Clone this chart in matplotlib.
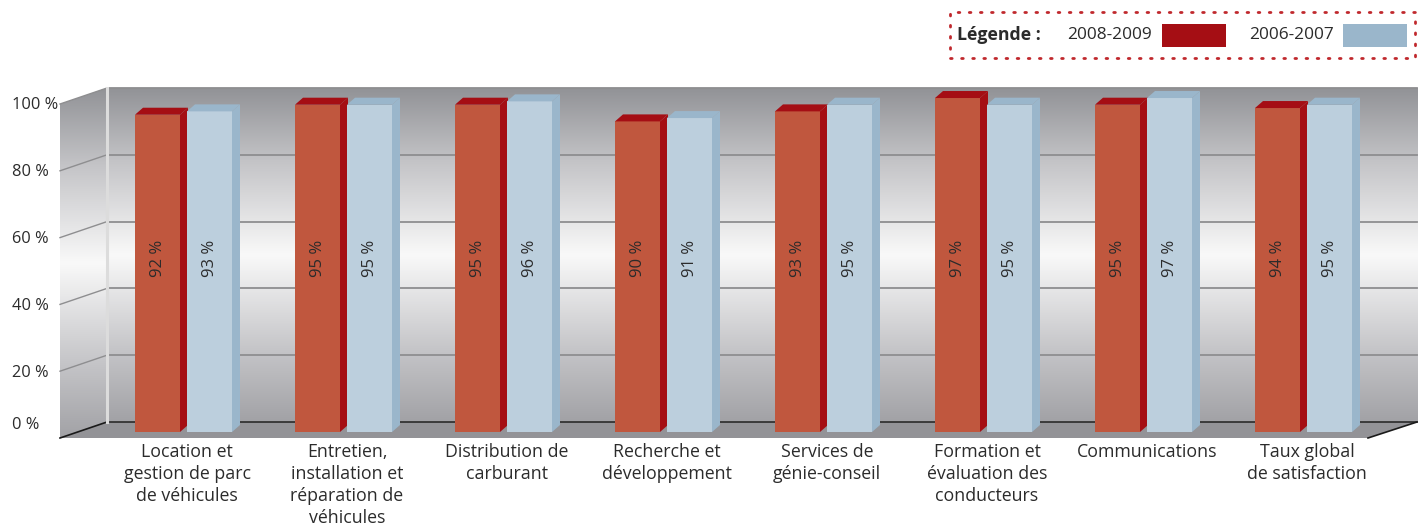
import numpy as np
import matplotlib
matplotlib.use("Agg")
import matplotlib.pyplot as plt
from matplotlib.patches import Polygon, Rectangle
from matplotlib.colors import LinearSegmentedColormap

# ── Data ──────────────────────────────────────────────────────────────────────
categories = [
    "Location et\ngestion de parc\nde véhicules",
    "Entretien,\ninstallation et\nréparation de\nvéhicules",
    "Distribution de\ncarburant",
    "Recherche et\ndéveloppement",
    "Services de\ngénie-conseil",
    "Formation et\névaluation des\nconducteurs",
    "Communications",
    "Taux global\nde satisfaction",
]
vals_2008 = [92, 95, 95, 90, 93, 97, 95, 94]
vals_2006 = [93, 95, 96, 91, 95, 95, 97, 95]
series_names = ["2008-2009", "2006-2007"]
y_ticks = [0, 20, 40, 60, 80, 100]

# ── Style ─────────────────────────────────────────────────────────────────────
FONT = ["Open Sans", "DejaVu Sans"]
TXT = "#2b2b2b"
RED_FRONT, RED_DARK = "#c0573e", "#a50e14"
BLUE_FRONT, BLUE_DARK = "#bccfdd", "#9ab6cb"
GRID = "#8e8e90"
FLOOR = "#939397"

W_PX, H_PX = 1426, 525
PX_X = 160.0      # pixels per category
PX_Y = 3.34       # pixels per percent
ORIG = (187, 422) # pixel position of (0, 0)


def px(x, y):
    """pixel position -> data coordinates (layout helper)"""
    return (x - ORIG[0]) / PX_X, (ORIG[1] - y) / PX_Y


fig = plt.figure(figsize=(W_PX / 100, H_PX / 100), dpi=100, facecolor="white")
ax = fig.add_axes([0, 0, 1, 1])
x_lo, y_top = px(0, 0)
x_hi, y_bot = px(W_PX, H_PX)
ax.set_xlim(x_lo, x_hi)
ax.set_ylim(y_bot, y_top)
ax.axis("off")

# wall geometry (data units)
wall_l, _ = px(107, 0)
wall_r, _ = px(1417, 0)
front_l, _ = px(60, 0)
front_r, _ = px(1368, 0)
depth_y = 16 / PX_Y
ymax = y_ticks[-1]

wall_cmap = LinearSegmentedColormap.from_list(
    "wall",
    [(0.0, "#a2a2a6"), (0.22, "#c6c6c9"), (0.5, "#f9f9f9"),
     (0.78, "#c4c4c7"), (1.0, "#929397")],
)
grad = np.linspace(0, 1, 256).reshape(-1, 1)

# back wall
ax.imshow(grad, extent=[wall_l, wall_r, 0, ymax], origin="lower",
          cmap=wall_cmap, aspect="auto", zorder=0, interpolation="bicubic")

# side wall
side = Polygon([(front_l, -depth_y), (wall_l, 0), (wall_l, ymax),
                (front_l, ymax - depth_y)], closed=True,
               facecolor="none", edgecolor="none")
ax.add_patch(side)
im = ax.imshow(grad, extent=[front_l, wall_l, -depth_y, ymax], origin="lower",
               cmap=wall_cmap, aspect="auto", zorder=0, interpolation="bicubic")
im.set_clip_path(side)

# floor
ax.add_patch(Polygon([(front_l, -depth_y), (wall_l, 0), (wall_r, 0),
                      (front_r, -depth_y)], closed=True,
                     facecolor=FLOOR, edgecolor="none", zorder=1))

# gridlines (back wall + side wall)
for t in y_ticks[1:]:
    ax.plot([wall_l, wall_r], [t, t], color=GRID, lw=1.3, zorder=1)
    ax.plot([front_l, wall_l], [t - depth_y, t], color=GRID, lw=1.0, zorder=1)
ax.plot([wall_l, wall_r], [0, 0], color="#2a2a2a", lw=1.2, zorder=1)
ax.plot([front_l, wall_l], [-depth_y, 0], color="#1a1a1a", lw=1.2, zorder=1)
ax.plot([front_r, wall_r], [-depth_y, 0], color="#1a1a1a", lw=1.2, zorder=1)
ax.plot([wall_l, wall_l], [0, ymax], color="#dcdcdc", lw=2.2, zorder=1)

# tick labels
lab_x, _ = px(12, 0)
for t in y_ticks:
    ty = t - 5.2 if t > 0 else -1.0
    ax.text(lab_x, ty, f"{t} %", ha="left", va="center", fontsize=11.8,
            color=TXT, family=FONT)

# ── Bars (pseudo 3D) ──────────────────────────────────────────────────────────
bar_w = 45 / PX_X
bar_dx = 8 / PX_X
bar_dy = 7 / PX_Y
base = -10 / PX_Y
offsets = [-52 / PX_X, 0.0]
colors = [(RED_FRONT, RED_DARK), (BLUE_FRONT, BLUE_DARK)]
xs = np.arange(len(categories))

for vals, off, (front, dark) in zip([vals_2008, vals_2006], offsets, colors):
    lefts = xs + off
    heights = np.array(vals) - base
    ax.bar(lefts, heights, width=bar_w, bottom=base, align="edge",
           color=front, edgecolor="none", zorder=3)
    for x0, v in zip(lefts, vals):
        x1 = x0 + bar_w
        ax.add_patch(Polygon([(x1, base), (x1, v), (x1 + bar_dx, v + bar_dy),
                              (x1 + bar_dx, base + bar_dy)], closed=True,
                             facecolor=dark, edgecolor="none", zorder=3))
        ax.add_patch(Polygon([(x0, v), (x0 + bar_dx, v + bar_dy),
                              (x1 + bar_dx, v + bar_dy), (x1, v)], closed=True,
                             facecolor=dark, edgecolor="none", zorder=3))
        ax.text(x0 + bar_w / 2, 49, f"{v} %", rotation=90, ha="center",
                va="center", fontsize=12, color=TXT, family=FONT, zorder=4)

# category labels
_, cat_y = px(0, 443)
for x, lab in zip(xs, categories):
    ax.text(x, cat_y, lab, ha="center", va="top", fontsize=12.8,
            color=TXT, family=FONT, linespacing=1.28)

# ── Legend ────────────────────────────────────────────────────────────────────
def fx(x):
    return x / W_PX


def fy(y):
    return 1 - y / H_PX


fig.patches.append(Rectangle((fx(950), fy(58)), fx(1415) - fx(950),
                             fy(12) - fy(58), transform=fig.transFigure,
                             fill=False, edgecolor="#c0282d", lw=2.0,
                             linestyle=(0, (0.6, 3.4)), capstyle="round"))
fig.text(fx(957), fy(35), "Légende :", ha="left", va="center",
         fontsize=12.8, fontweight="bold", color=TXT, family=FONT)
for name, (tx, bx), (_, dark) in zip(series_names, [(1067, 1162), (1249, 1343)],
                                     colors):
    fig.text(fx(tx), fy(35), name, ha="left", va="center", fontsize=12.4,
             color=TXT, family=FONT)
    fig.patches.append(Rectangle((fx(bx), fy(47)), fx(64), fy(24) - fy(47),
                                 transform=fig.transFigure, facecolor=dark,
                                 edgecolor="none"))

fig.savefig("out.png", dpi=100, facecolor="white")
